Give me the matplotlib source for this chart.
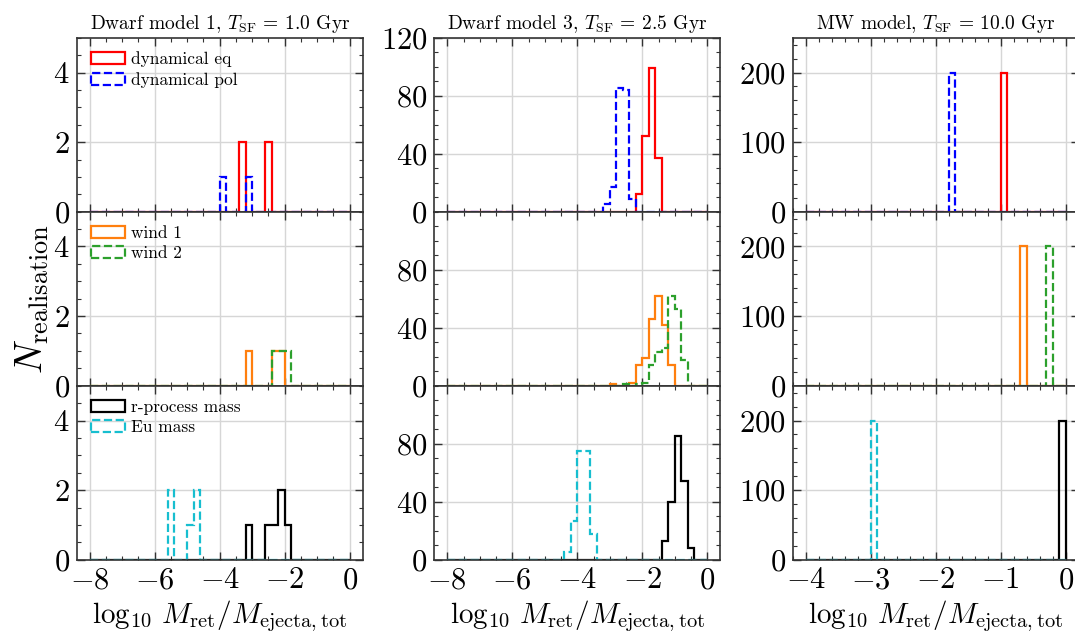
import numpy as np
import matplotlib
matplotlib.use('Agg')
import matplotlib.pyplot as plt
from matplotlib.ticker import MultipleLocator

plt.rcParams['font.family'] = 'serif'
plt.rcParams['font.serif'] = ['cmr10']
plt.rcParams['mathtext.fontset'] = 'cm'
plt.rcParams['axes.formatter.use_mathtext'] = True

# ---------------- data ----------------
titles = [r"Dwarf model 1, $T_{\rm SF}$ = 1.0 Gyr",
          r"Dwarf model 3, $T_{\rm SF}$ = 2.5 Gyr",
          r"MW model, $T_{\rm SF}$ = 10.0 Gyr"]
x_ranges = [(-8.0, 0.0), (-8.0, 0.0), (-4.0, 0.0)]
n_bins = 40
row_labels = [("dynamical eq", "dynamical pol"),
              ("wind 1", "wind 2"),
              ("r-process mass", "Eu mass")]

# bin left edges and counts of non-empty bins (Dwarf model 1)
d1_dyn_eq_x = [-3.4, -2.6];            d1_dyn_eq_n = [2, 2]
d1_dyn_pol_x = [-4.0, -3.2];           d1_dyn_pol_n = [1, 1]
d1_wind1_x = [-3.2, -2.4, -2.2];       d1_wind1_n = [1, 1, 1]
d1_wind2_x = [-2.4, -2.2, -2.0];       d1_wind2_n = [1, 1, 1]
d1_rproc_x = [-3.2, -2.6, -2.4, -2.2, -2.0]; d1_rproc_n = [1, 1, 1, 2, 1]
d1_eu_x = [-5.6, -5.0, -4.8];          d1_eu_n = [2, 1, 2]

# Dwarf model 3
d3_dyn_eq_x = [-2.2, -2.0, -1.8, -1.6]; d3_dyn_eq_n = [12, 52, 99, 37]
d3_dyn_pol_x = [-3.2, -3.0, -2.8, -2.6, -2.4]; d3_dyn_pol_n = [5, 17, 85, 84, 9]
d3_wind1_x = [-3.0, -2.4, -2.2, -2.0, -1.8, -1.6, -1.4, -1.2]
d3_wind1_n = [1, 2, 14, 19, 46, 62, 42, 14]
d3_wind2_x = [-2.6, -2.2, -2.0, -1.8, -1.6, -1.4, -1.2, -1.0, -0.8]
d3_wind2_n = [1, 1, 2, 14, 23, 26, 62, 53, 18]
d3_rproc_x = [-1.4, -1.2, -1.0, -0.8, -0.6]; d3_rproc_n = [13, 40, 85, 54, 8]
d3_eu_x = [-4.4, -4.2, -4.0, -3.8, -3.6]; d3_eu_n = [5, 27, 75, 75, 18]

# MW model
mw_dyn_eq_x = [-1.0];  mw_dyn_eq_n = [200]
mw_dyn_pol_x = [-1.8]; mw_dyn_pol_n = [200]
mw_wind1_x = [-0.7];   mw_wind1_n = [200]
mw_wind2_x = [-0.3];   mw_wind2_n = [200]
mw_rproc_x = [-0.1];   mw_rproc_n = [200]
mw_eu_x = [-3.0];      mw_eu_n = [200]

panels = [
    [((d1_dyn_eq_x, d1_dyn_eq_n), (d1_dyn_pol_x, d1_dyn_pol_n)),
     ((d1_wind1_x, d1_wind1_n), (d1_wind2_x, d1_wind2_n)),
     ((d1_rproc_x, d1_rproc_n), (d1_eu_x, d1_eu_n))],
    [((d3_dyn_eq_x, d3_dyn_eq_n), (d3_dyn_pol_x, d3_dyn_pol_n)),
     ((d3_wind1_x, d3_wind1_n), (d3_wind2_x, d3_wind2_n)),
     ((d3_rproc_x, d3_rproc_n), (d3_eu_x, d3_eu_n))],
    [((mw_dyn_eq_x, mw_dyn_eq_n), (mw_dyn_pol_x, mw_dyn_pol_n)),
     ((mw_wind1_x, mw_wind1_n), (mw_wind2_x, mw_wind2_n)),
     ((mw_rproc_x, mw_rproc_n), (mw_eu_x, mw_eu_n))],
]

# ---------------- style ----------------
row_styles = [(('red', '-'), ('blue', '--')),
              (('#ff7f0e', '-'), ('#2ca02c', '--')),
              (('black', '-'), ('#17becf', '--'))]
col_ylims = [5, 120, 250]
col_ymajor = [2, 40, 100]
col_yminor = [0.5, 10, 20]
col_xmajor = [2, 2, 1]
col_xminor = [0.5, 0.5, 0.2]

W, H = 1075, 637
fig = plt.figure(figsize=(W / 100, H / 100), dpi=100)
col_left = [76.7, 434.3, 792.7]
ax_w = 286.0
row_top = [37.7, 211.7, 385.7]
ax_h = 174.0

spine_col = '#333333'
axes = [[None] * 3 for _ in range(3)]
for c in range(3):
    lo, hi = x_ranges[c]
    edges = np.linspace(lo, hi, n_bins + 1)
    centers = 0.5 * (edges[:-1] + edges[1:])
    bw = edges[1] - edges[0]
    for r in range(3):
        ax = fig.add_axes([col_left[c] / W, 1 - (row_top[r] + ax_h) / H,
                           ax_w / W, ax_h / H])
        axes[r][c] = ax
        for k in range(2):
            xs, ns = panels[c][r][k]
            counts = np.zeros(n_bins)
            for xv, nv in zip(xs, ns):
                idx = int(round((xv - lo) / bw))
                counts[idx] = nv
            colr, ls = row_styles[r][k]
            ax.hist(centers, bins=edges, weights=counts, histtype='step',
                    color=colr, linestyle=ls, linewidth=1.6,
                    label=row_labels[r][k])
        span = hi - lo
        ax.set_xlim(lo - 0.05 * span, hi + 0.05 * span)
        ax.set_ylim(0, col_ylims[c])
        ax.xaxis.set_major_locator(MultipleLocator(col_xmajor[c]))
        ax.xaxis.set_minor_locator(MultipleLocator(col_xminor[c]))
        if c == 1 and r > 0:
            ax.set_yticks([0, 40, 80])
        else:
            ax.yaxis.set_major_locator(MultipleLocator(col_ymajor[c]))
        ax.yaxis.set_minor_locator(MultipleLocator(col_yminor[c]))
        ax.grid(True, which='major', color='#d6d6d6', linewidth=1.0)
        ax.set_axisbelow(True)
        ax.tick_params(which='both', direction='in', top=True, right=True,
                       color=spine_col, labelsize=22, pad=5)
        ax.tick_params(which='major', length=6, width=1.0)
        ax.tick_params(which='minor', length=3, width=0.8)
        for s in ax.spines.values():
            s.set_color(spine_col)
            s.set_linewidth(1.2)
        if r < 2:
            ax.tick_params(labelbottom=False)
        else:
            ax.set_xlabel(r"$\log_{10}\, M_{\rm ret}/M_{\rm ejecta,tot}$",
                          fontsize=21, labelpad=3)
        if r == 0:
            ax.set_title(titles[c], fontsize=14, pad=6)
        if c == 0:
            ax.legend(loc='upper left', frameon=False, fontsize=12.5,
                      handlelength=2.0, labelspacing=0.3,
                      handletextpad=0.3, borderaxespad=0.4)
        if c == 0 and r == 1:
            ax.set_ylabel(r"$N_{\rm realisation}$", fontsize=27, labelpad=2)

fig.savefig('out.png', dpi=100)
